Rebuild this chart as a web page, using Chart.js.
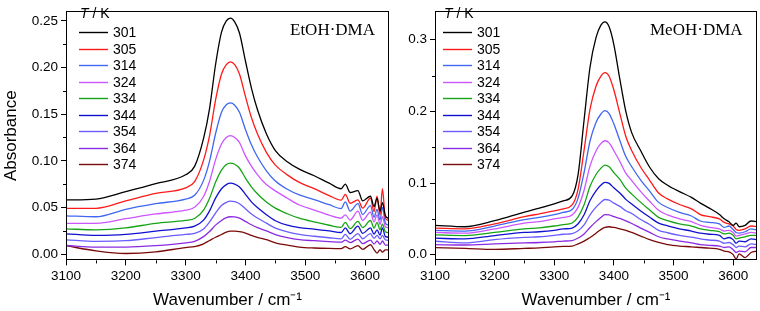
<!DOCTYPE html>
<html>
<head>
<meta charset="utf-8">
<script src="https://cdn.jsdelivr.net/npm/chart.js@4.4.1/dist/chart.umd.min.js"></script>
<style>
html, body { margin: 0; padding: 0; background: #fff; }
#wrap { position: relative; width: 760px; height: 311px; }
#etohChart { position: absolute; left: 0; top: 0; }
#meohChart { position: absolute; left: 395px; top: 0; }
</style>
</head>
<body>
<div id="wrap">
  <canvas id="etohChart" width="395" height="311"></canvas>
  <canvas id="meohChart" width="365" height="311"></canvas>
</div>
<script>
// temperatures (K) and line colours
const temps = ['301', '305', '314', '324', '334', '344', '354', '364', '374'];
const colors = ['#000000', '#ff1a1a', '#3f67f0', '#cc55ff', '#16a416', '#1010d0', '#6a5cff', '#8a2be2', '#7a0a0a'];

// axis ticks
const xTicks = [3100, 3200, 3300, 3400, 3500, 3600];
const xMinor = [3150, 3250, 3350, 3450, 3550];
const yTicksEtOH = [0, 0.05, 0.10, 0.15, 0.20, 0.25];
const yMinorEtOH = [0.025, 0.075, 0.125, 0.175, 0.225];
const yTicksMeOH = [0, 0.1, 0.2, 0.3];
const yMinorMeOH = [0.05, 0.15, 0.25];

// EtOH·DMA spectra (absorbance)
const wnEtOH = [3100, 3150, 3200, 3250, 3300, 3315, 3330, 3340, 3350, 3360, 3368, 3375, 3382, 3390, 3400, 3410, 3420, 3435, 3450, 3470, 3490, 3515, 3540, 3560, 3567, 3575, 3588, 3596, 3609, 3615, 3620, 3625, 3629, 3634, 3640];
const etoh301 = [.058, .059, .067, .0755, .085, .094, .124, .156, .203, .238, .250, .253, .249, .237, .207, .178, .155, .129, .111, .099, .091, .084, .076, .070, .075, .066, .068, .057, .062, .051, .060, .046, .055, .041, .038];
const etoh305 = [.049, .049, .057, .065, .071, .0777, .1007, .127, .165, .193, .203, .206, .203, .193, .169, .1464, .129, .1091, .0954, .0849, .0768, .0701, .0627, .0578, .064, .0545, .058, .0492, .060, .0455, .062, .0419, .070, .0381, .036];
const etoh314 = [.041, .040, .048, .054, .059, .063, .079, .0997, .129, .152, .160, .162, .1596, .152, .1336, .1172, .1043, .0893, .0784, .0695, .0634, .0584, .0529, .0488, .056, .046, .054, .0424, .052, .0395, .048, .0365, .050, .033, .031];
const etoh324 = [.033, .033, .038, .043, .047, .0501, .0617, .078, .101, .118, .125, .127, .125, .1196, .1053, .0943, .0851, .0745, .0677, .0599, .0526, .0472, .0417, .0385, .042, .0364, .046, .0362, .045, .0344, .042, .0319, .040, .0293, .028];
const etoh334 = [.027, .026, .028, .033, .036, .0381, .0472, .0598, .077, .090, .096, .0976, .0963, .092, .0815, .0721, .0646, .0558, .0492, .0432, .0384, .0344, .0309, .0286, .034, .0273, .035, .0284, .036, .0279, .034, .0261, .032, .0238, .023];
const etoh344 = [.0217, .020, .021, .0245, .028, .0299, .0364, .0463, .060, .070, .0745, .076, .075, .072, .064, .056, .0498, .0422, .0357, .0309, .0284, .0267, .0249, .0231, .028, .0218, .030, .0222, .028, .0214, .026, .0203, .028, .0187, .018];
const etoh354 = [.0153, .0136, .0143, .0177, .021, .0222, .0269, .0345, .044, .052, .0554, .0567, .0562, .054, .0485, .0429, .0386, .0331, .0279, .0239, .021, .0191, .0175, .0163, .021, .0158, .022, .0164, .022, .0168, .020, .0162, .020, .0151, .0146];
const etoh364 = [.0092, .0075, .0075, .009, .012, .0136, .0187, .0241, .031, .036, .039, .040, .0398, .0385, .035, .0314, .0284, .0248, .0209, .0176, .0154, .0143, .0134, .0127, .015, .0123, .016, .0112, .015, .0108, .014, .0104, .014, .0096, .0095];
const etoh374 = [.009, .0034, .0006, .0023, .007, .008, .011, .0145, .018, .021, .0235, .0245, .0245, .024, .0225, .020, .018, .0155, .012, .0095, .0075, .0065, .006, .0058, .008, .0055, .009, .005, .010, .0048, .001, .0046, .002, .0045, .0044];

// MeOH·DMA spectra
const wnMeOH = [3100, 3150, 3200, 3250, 3275, 3300, 3315, 3330, 3340, 3350, 3360, 3370, 3378, 3385, 3392, 3400, 3410, 3420, 3430, 3445, 3460, 3475, 3490, 3510, 3530, 3545, 3560, 3577, 3585, 3593, 3600, 3605, 3610, 3620, 3630, 3640];
const meoh301 = [.041, .039, .0475, .0595, .065, .071, .075, .082, .112, .188, .262, .303, .320, .325, .318, .293, .245, .200, .170, .145, .122, .106, .097, .088, .080, .072, .065, .056, .050, .046, .041, .044, .039, .041, .047, .046];
const meoh305 = [.037, .036, .043, .053, .057, .061, .064, .0694, .0916, .146, .203, .235, .249, .254, .249, .2298, .197, .165, .145, .122, .1038, .086, .0779, .070, .064, .056, .053, .050, .045, .043, .040, .035, .034, .036, .040, .039];
const meoh314 = [.034, .033, .040, .049, .052, .056, .059, .0631, .079, .1147, .1587, .1845, .196, .201, .197, .1823, .1593, .1369, .1227, .104, .0887, .073, .0659, .059, .054, .047, .045, .043, .038, .040, .035, .031, .030, .032, .036, .034];
const meoh324 = [.031, .030, .036, .044, .046, .050, .052, .0554, .0664, .090, .124, .1447, .155, .159, .156, .1451, .130, .1137, .1033, .088, .0745, .062, .0555, .050, .046, .041, .038, .036, .033, .034, .031, .026, .027, .029, .031, .030];
const meoh334 = [.0275, .0267, .031, .036, .0375, .040, .042, .0442, .0528, .0697, .0954, .1119, .1205, .125, .1227, .1145, .105, .0929, .0845, .073, .0624, .052, .0476, .043, .040, .036, .034, .032, .029, .030, .027, .022, .023, .025, .027, .027];
const meoh344 = [.023, .022, .0267, .031, .032, .034, .036, .0372, .0431, .0557, .0756, .0892, .0968, .101, .0995, .0933, .0862, .0772, .0706, .061, .0523, .044, .0403, .036, .033, .030, .0285, .027, .022, .024, .021, .016, .019, .018, .022, .021];
const meoh354 = [.0187, .0164, .021, .024, .025, .027, .0285, .0295, .0334, .0415, .0557, .0663, .0729, .077, .0761, .0719, .0674, .0614, .0574, .049, .0422, .034, .0306, .027, .0245, .022, .0205, .019, .016, .017, .014, .010, .012, .011, .015, .014];
const meoh364 = [.014, .0135, .015, .0164, .017, .018, .019, .0197, .0232, .029, .038, .0461, .0518, .056, .0555, .053, .0506, .0473, .0435, .037, .0311, .025, .0219, .019, .0165, .014, .013, .012, .010, .011, .007, .003, .005, .004, .010, .010];
const meoh374 = [.0097, .0088, .0075, .0088, .0095, .011, .0115, .012, .015, .019, .024, .030, .035, .038, .039, .038, .036, .034, .031, .026, .021, .017, .014, .012, .011, .010, .009, .0075, .005, .004, .000, -.006, .001, -.004, .003, .005];

const SANS = '"Liberation Sans", Arial, sans-serif';
Chart.defaults.font.family = SANS;
Chart.defaults.color = '#000';

// box, minor ticks, inset legend and sample name
const framePlugin = {
    id: 'frame',
    afterDraw(chart, args, opts) {
        const ctx = chart.ctx;
        const a = chart.chartArea;
        const sx = chart.scales.x, sy = chart.scales.y;
        ctx.save();
        ctx.strokeStyle = '#000';
        ctx.lineWidth = 1;
        ctx.strokeRect(Math.round(a.left) + 0.5, Math.round(a.top) + 0.5,
            Math.round(a.right - a.left) - 1, Math.round(a.bottom - a.top) - 1);

        ctx.beginPath();
        opts.xMinor.forEach(v => {
            const px = Math.round(sx.getPixelForValue(v)) + 0.5;
            ctx.moveTo(px, a.bottom);
            ctx.lineTo(px, a.bottom + 3);
        });
        opts.yMinor.forEach(v => {
            const py = Math.round(sy.getPixelForValue(v)) + 0.5;
            ctx.moveTo(a.left, py);
            ctx.lineTo(a.left - 3, py);
        });
        ctx.stroke();

        // legend
        const lx = opts.legendX, ly = opts.legendY;
        ctx.fillStyle = '#000';
        ctx.textBaseline = 'middle';
        ctx.font = 'italic 14px ' + SANS;
        ctx.fillText('T', lx + 1, ly - 18);
        const tw = ctx.measureText('T').width;
        ctx.font = '14px ' + SANS;
        ctx.fillText(' / K', lx + 1 + tw, ly - 18);
        chart.data.datasets.forEach((ds, i) => {
            const y = Math.round(ly + i * 16.5) + 0.5;
            ctx.strokeStyle = ds.borderColor;
            ctx.lineWidth = 1.4;
            ctx.beginPath();
            ctx.moveTo(lx, y);
            ctx.lineTo(lx + 29, y);
            ctx.stroke();
            ctx.fillText(ds.label, lx + 34, y + 0.5);
        });

        // sample name
        ctx.font = '17px "Liberation Serif", "Times New Roman", serif';
        ctx.textBaseline = 'alphabetic';
        ctx.fillText(opts.name, opts.nameX, 35);
        ctx.restore();
    }
};

function makeDatasets(wn, series) {
    return series.map((vals, i) => ({
        label: temps[i],
        data: wn.map((w, j) => ({ x: w, y: vals[j] })),
        borderColor: colors[i],
        borderWidth: 1.3,
        pointRadius: 0,
        fill: false,
        cubicInterpolationMode: 'monotone'
    }));
}

function makeChart(id, wn, series, cfg) {
    return new Chart(document.getElementById(id), {
        type: 'line',
        data: { datasets: makeDatasets(wn, series) },
        plugins: [framePlugin],
        options: {
            responsive: false,
            animation: false,
            devicePixelRatio: 1,
            layout: { padding: { top: 2, right: cfg.padRight, left: 0, bottom: 0 } },
            plugins: {
                legend: { display: false },
                tooltip: { enabled: false },
                frame: cfg.frame
            },
            scales: {
                x: {
                    type: 'linear',
                    min: 3100,
                    max: 3640,
                    afterBuildTicks: ax => { ax.ticks = xTicks.map(v => ({ value: v })); },
                    ticks: { font: { size: 13.5 }, padding: 3, maxRotation: 0, callback: v => String(v) },
                    grid: { drawOnChartArea: false, tickLength: 5, color: '#000' },
                    border: { display: false },
                    title: { display: true, text: 'Wavenumber / cm\u207B\u00B9', font: { size: 17 }, padding: { top: 3, bottom: 0 } }
                },
                y: {
                    type: 'linear',
                    min: cfg.yMin,
                    max: cfg.yMax,
                    afterBuildTicks: ax => { ax.ticks = cfg.yTicks.map(v => ({ value: v })); },
                    afterFit: ax => { ax.width = cfg.yWidth; },
                    ticks: { font: { size: 13.5 }, padding: 3, callback: v => v.toFixed(cfg.digits) },
                    grid: { drawOnChartArea: false, tickLength: 5, color: '#000' },
                    border: { display: false },
                    title: { display: cfg.yTitle, text: 'Absorbance', font: { size: 17 }, padding: { top: 1, bottom: 0 } }
                }
            }
        }
    });
}

makeChart('etohChart', wnEtOH,
    [etoh301, etoh305, etoh314, etoh324, etoh334, etoh344, etoh354, etoh364, etoh374], {
        padRight: 6, yMin: -0.0068, yMax: 0.2605, yTicks: yTicksEtOH, digits: 2, yWidth: 66, yTitle: true,
        frame: { xMinor: xMinor, yMinor: yMinorEtOH, legendX: 79, legendY: 32.3, name: 'EtOH\u00B7DMA', nameX: 290 }
    });

makeChart('meohChart', wnMeOH,
    [meoh301, meoh305, meoh314, meoh324, meoh334, meoh344, meoh354, meoh364, meoh374], {
        padRight: 3, yMin: -0.008, yMax: 0.34, yTicks: yTicksMeOH, digits: 1, yWidth: 40, yTitle: false,
        frame: { xMinor: xMinor, yMinor: yMinorMeOH, legendX: 48, legendY: 32.3, name: 'MeOH\u00B7DMA', nameX: 255 }
    });
</script>
</body>
</html>
